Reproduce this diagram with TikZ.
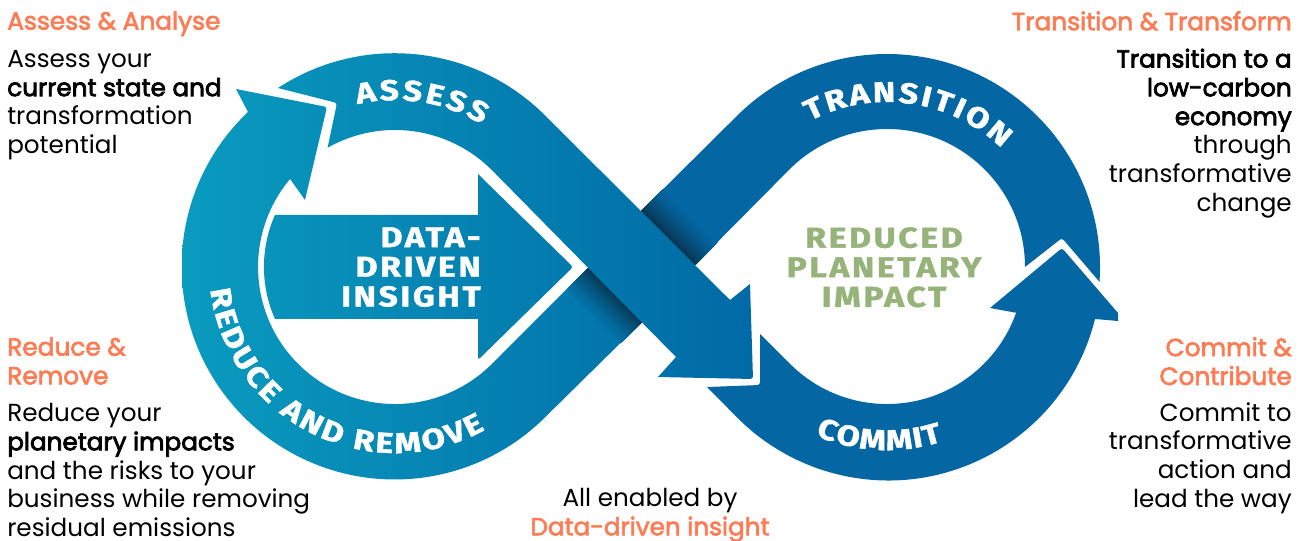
\documentclass[tikz,border=0pt]{standalone}
\usepackage{fontspec}
\usetikzlibrary{decorations.text,calc}
\setmainfont{Poppins}
\newfontfamily\heavyf{Fira Sans}[BoldFeatures={FakeBold=1.5,FakeStretch=1.18}]
\newfontfamily\heavylsf{Fira Sans}[BoldFeatures={FakeBold=1.5,FakeStretch=1.18},LetterSpace=9]
\newcommand\heavy{\heavyf\bfseries}
\newcommand\heavyls{\heavylsf\bfseries}
\newfontfamily\semif{Poppins}[FakeBold=3]
\newfontfamily\midf{Poppins}[FakeBold=2.5]
\definecolor{gone}{HTML}{0A9BBF}
\definecolor{gtwo}{HTML}{0069A5}
\definecolor{bandblue}{HTML}{0467A3}
\definecolor{bandmid}{HTML}{0272A9}
\definecolor{shadowdark}{HTML}{06354F}
\definecolor{orangehead}{HTML}{FF7B53}
\definecolor{leafgreen}{HTML}{96B47A}
\newcommand\gradband[1]{\begin{scope}\clip #1;\shade[left color=gone,right color=gtwo] (182,40) rectangle (760,500);\end{scope}}
\tikzset{
  x=0.75pt,y=-0.75pt,
  head/.style={font=\midf\fontsize{18.6}{21.6}\selectfont,text=orangehead,inner sep=0pt},
  body/.style={font=\fontsize{18.5}{21.6}\selectfont,text=black,inner sep=0pt},
  inner/.style={font=\heavyls\fontsize{21.5}{22.2}\selectfont,inner sep=0pt},
  ringtext/.style={decorate,decoration={text along path,text align={fit to path},text={#1}}},
}
\begin{document}
\begin{tikzpicture}
\useasboundingbox (0,0) rectangle (1306,541);
% reduce band + left arrow head
\gradband{(600,256) -- (491.9,363.9) arc[start angle=45,end angle=220,radius=137] -- (305,200) [rounded corners=2] -- (327,107) [sharp corners] -- (236,89) -- (248,112) arc[start angle=226.5,end angle=45,radius=213] -- (660,304) -- cycle}
% transition band
\fill[bandblue] (620,232) -- (736.4,116.4) arc[start angle=225,end angle=364,radius=213] [rounded corners=2] -- (1062,238) [sharp corners] -- (1025,267) arc[start angle=0,end angle=-135,radius=138] -- (670,290) -- cycle;
% shadows under the main band
\foreach \i in {30,29,...,1}{
  \pgfmathsetmacro\p{100*(1-(\i/30))^1.3}
  \pgfmathsetmacro\d{\i*0.75}
  \fill[shadowdark!\p!bandblue] (641,211) -- (695,265) -- ++(\d,-\d) -- ($(641,211)+(\d,-\d)$) -- cycle;
  \fill[shadowdark!\p!bandmid] (589,267) -- (643,321) -- ++(-\d,\d) -- ($(589,267)+(-\d,\d)$) -- cycle;
}
% commit band with right arrow head
\fill[bandblue] (707,387) [rounded corners=2] -- (760,385) [sharp corners] -- (760,334) -- (790.1,363.9) arc[start angle=135,end angle=19.5,radius=137] -- (990,308) [rounded corners=2] -- (1062,248) [sharp corners] -- (1118,313) -- (1118,321) -- (1095,319) arc[start angle=14,end angle=135,radius=213] -- cycle;
% main band (assess) with arrow head
\gradband{(278,88) arc[start angle=236.8,end angle=315,radius=213] -- (730,300) -- (750,284) [rounded corners=2] -- (753,379) [sharp corners] -- (658,377) -- (676,357) -- (491.9,170.1) arc[start angle=315,end angle=240.5,radius=137] [rounded corners=2] -- (337,103) [sharp corners] -- cycle}
% data arrow
\gradband{(275,215) -- (478,215) -- (478,174) [rounded corners=2] -- (573,267) [sharp corners] [rounded corners=2] -- (478,360) [sharp corners] -- (478,319) -- (275,319) arc[start angle=156,end angle=204,radius=128] -- cycle}
% ring labels
\path[ringtext={|\heavy\fontsize{21.5}{22}\selectfont\color{white}|ASSESS}] (395,267) ++(-103:167) arc[start angle=-103,end angle=-58.6,radius=167];
\path[ringtext={|\heavy\fontsize{21.5}{22}\selectfont\color{white}|TRANSITION}] (887,267) ++(-118:165) arc[start angle=-118,end angle=-46,radius=165];
\path[ringtext={|\heavy\fontsize{21.5}{22}\selectfont\color{white}|COMMIT}] (887,267) ++(113:183) arc[start angle=113,end angle=72.3,radius=183];
\path[ringtext={|\heavy\fontsize{21.5}{22}\selectfont\color{white}|REDUCE AND REMOVE}] (395,267) ++(173:186) arc[start angle=173,end angle=61,radius=186];
% centre labels
\node[inner,text=white,align=right,anchor=north east] (insight) at (481,227) {DATA-\\DRIVEN\\INSIGHT};
\node[inner,text=leafgreen,align=center,anchor=north] (impact) at (884,227) {REDUCED\\PLANETARY\\IMPACT};
% side texts
\node[head,anchor=north west] (t1) at (7,11) {Assess \& Analyse};
\node[body,align=left,anchor=north west] (b1) at (7,50) {Assess your\\{\semif current state and}\\transformation\\potential};
\node[head,align=left,anchor=north west] (t2) at (7,337) {Reduce \&\\Remove};
\node[body,align=left,anchor=north west] (b2) at (7,403) {Reduce your\\{\semif planetary impacts}\\and the risks to your\\business while removing\\residual emissions};
\node[head,anchor=north east] (t3) at (1292,11) {Transition \& Transform};
\node[body,align=right,anchor=north east] (b3) at (1292,48.5) {{\semif Transition to a}\\{\semif low-carbon}\\{\semif economy}\\through\\transformative\\change};
\node[head,align=right,anchor=north east] (t4) at (1292,337) {Commit \&\\Contribute};
\node[body,align=right,anchor=north east] (b4) at (1292,402) {Commit to\\transformative\\action and\\lead the way};
\node[body,align=center,anchor=north] (b5) at (650,488) {All enabled by\\{\midf\color{orangehead}Data-driven insight}};
\end{tikzpicture}
\end{document}
